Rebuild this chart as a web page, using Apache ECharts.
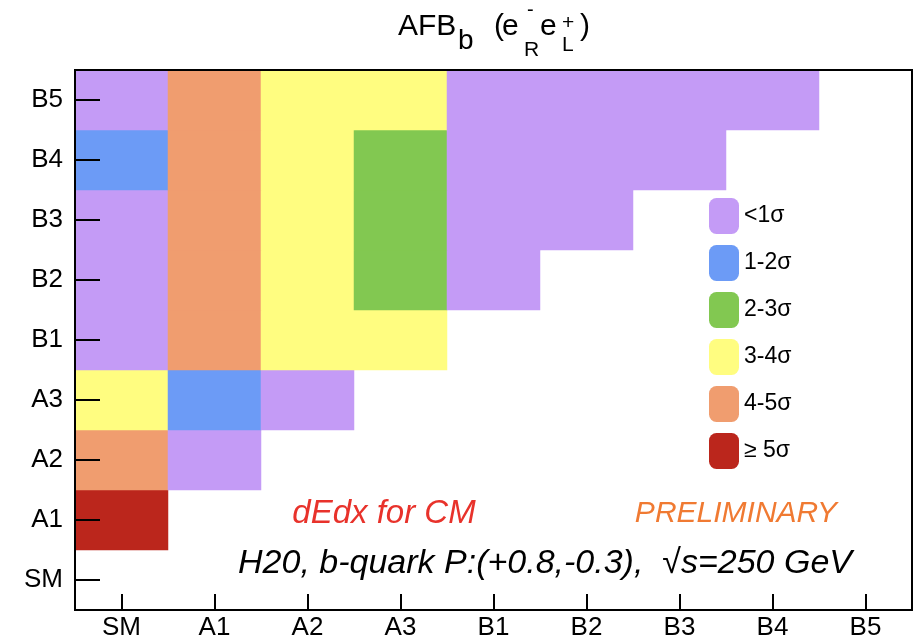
<!DOCTYPE html>
<html>
<head>
<meta charset="utf-8">
<script src="https://cdn.jsdelivr.net/npm/echarts@6/dist/echarts.min.js"></script>
<style>
  html, body { margin: 0; padding: 0; background: #fff; }
  #chart { width: 921px; height: 641px; }
</style>
</head>
<body>
<div id="chart"></div>
<script>
// Model labels shared by both axes (bottom-to-top on y, left-to-right on x)
const models = ['SM', 'A1', 'A2', 'A3', 'B1', 'B2', 'B3', 'B4', 'B5'];

// Significance class of each comparison, one list per y row, starting at x = SM
// 0: <1σ, 1: 1-2σ, 2: 2-3σ, 3: 3-4σ, 4: 4-5σ, 5: ≥5σ
const rowA1 = [5];
const rowA2 = [4, 0];
const rowA3 = [3, 1, 0];
const rowB1 = [0, 4, 3, 3];
const rowB2 = [0, 4, 3, 2, 0];
const rowB3 = [0, 4, 3, 2, 0, 0];
const rowB4 = [1, 4, 3, 2, 0, 0, 0];
const rowB5 = [0, 4, 3, 3, 0, 0, 0, 0];

const rows = { A1: rowA1, A2: rowA2, A3: rowA3, B1: rowB1, B2: rowB2, B3: rowB3, B4: rowB4, B5: rowB5 };

const levelLabels = ['<1σ', '1-2σ', '2-3σ', '3-4σ', '4-5σ', '≥ 5σ'];
const levelColors = ['#c49bf6', '#6c9bf6', '#82c851', '#fffd80', '#f09d6f', '#bb261c'];

const cells = [];
Object.keys(rows).forEach(function (name) {
  const y = models.indexOf(name);
  rows[name].forEach(function (lvl, x) { cells.push([x, y, lvl]); });
});

const FONT = '"Liberation Sans", Arial, Helvetica, sans-serif';
const chart = echarts.init(document.getElementById('chart'), null, { renderer: 'canvas' });

function t(text, x, y, size, extra) {
  return {
    type: 'text', x: x, y: y, silent: true, z: 100,
    style: Object.assign({
      text: text, fontSize: size, fontFamily: FONT, fill: '#000',
      align: 'left', verticalAlign: 'middle'
    }, extra || {})
  };
}

const tickStyle = { color: '#000', width: 2 };

chart.setOption({
  backgroundColor: '#fff',
  animation: false,
  grid: {
    left: 75, right: 9, top: 70, bottom: 31, z: 10,
    show: true, borderColor: '#000', borderWidth: 2, backgroundColor: 'transparent'
  },
  xAxis: {
    type: 'category', data: models, z: 10,
    axisLine: { show: true, lineStyle: tickStyle },
    axisTick: { show: true, inside: true, length: 16, alignWithLabel: true, lineStyle: tickStyle },
    axisLabel: { color: '#000', fontSize: 26, fontFamily: FONT, margin: 5 },
    splitLine: { show: false }, splitArea: { show: false }
  },
  yAxis: {
    type: 'category', data: models, z: 10,
    axisLine: { show: true, lineStyle: tickStyle },
    axisTick: { show: true, inside: true, length: 25, alignWithLabel: true, lineStyle: tickStyle },
    axisLabel: { color: '#000', fontSize: 26, fontFamily: FONT, margin: 12 },
    splitLine: { show: false }, splitArea: { show: false }
  },
  visualMap: {
    type: 'piecewise',
    dimension: 2,
    pieces: levelLabels.map(function (lab, i) { return { value: i, label: lab, color: levelColors[i] }; }),
    orient: 'vertical',
    inverse: true,
    align: 'left',
    left: 694, top: 183,
    itemWidth: 30, itemHeight: 36, itemGap: 11, itemSymbol: 'roundRect',
    textGap: 5,
    selectedMode: false,
    hoverLink: false,
    textStyle: { color: '#000', fontSize: 23, fontFamily: FONT }
  },
  series: [{
    type: 'heatmap',
    data: cells,
    z: 2,
    itemStyle: { borderWidth: 0 },
    emphasis: { disabled: true },
    label: { show: false }
  }],
  graphic: [
    // Title: AFB_b (e^-_R e^+_L)
    t('AFB', 398, 26.5, 30),
    t('b', 458, 41, 28),
    t('(', 494, 26.5, 30),
    t('e', 502, 26.5, 30),
    t('-', 527, 10, 20),
    t('R', 524, 50.6, 21),
    t('e', 540, 26.5, 30),
    t('+', 562, 23.5, 21),
    t('L', 562, 45.6, 21),
    t(')', 580, 26.5, 30),
    // Annotations inside the plot
    t('dEdx for CM', 384, 514, 33, { align: 'center', fontStyle: 'italic', fill: '#e8322b' }),
    t('PRELIMINARY', 736, 514, 30, { align: 'center', fontStyle: 'italic', fill: '#f07a32' }),
    t('H20, b-quark P:(+0.8,-0.3),  √s=250 GeV', 545, 564, 34, { align: 'center', fontStyle: 'italic' })
  ]
});
</script>
</body>
</html>
